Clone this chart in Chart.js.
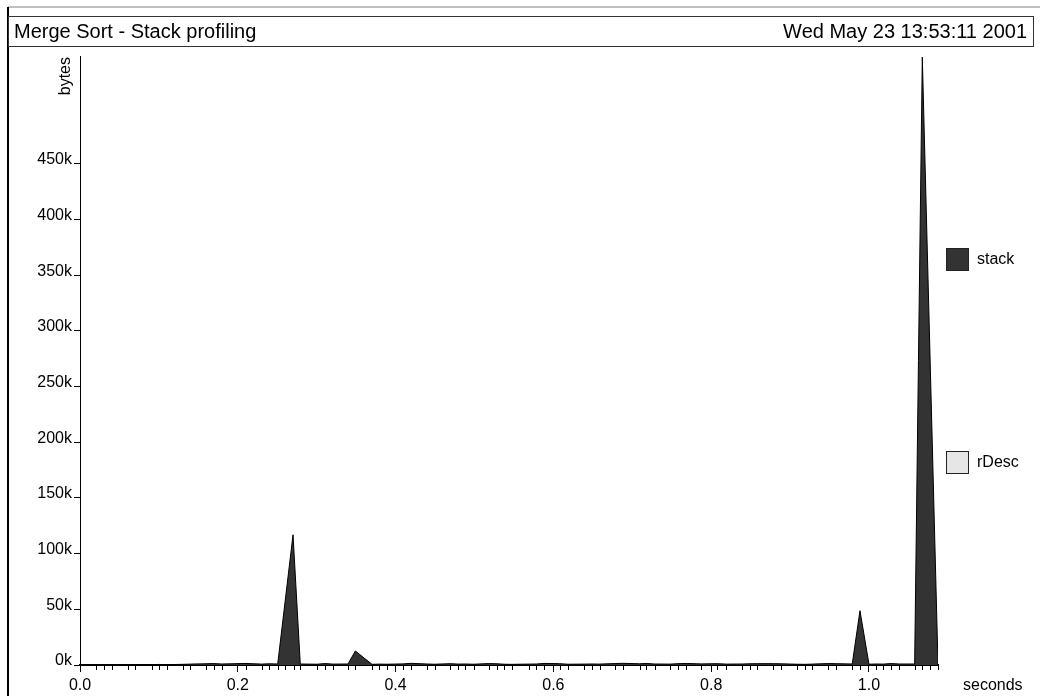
<!DOCTYPE html>
<html>
<head>
<meta charset="utf-8">
<title>Merge Sort - Stack profiling</title>
<script src="https://cdn.jsdelivr.net/npm/chart.js@4.4.1/dist/chart.umd.min.js"></script>
<style>
    html, body { margin: 0; padding: 0; background: #fff; }
    #wrap { width: 1040px; height: 696px; }
</style>
</head>
<body>
<div id="wrap"><canvas id="chart-stack" width="1040" height="696"></canvas></div>
<script>
const chartTitle = 'Merge Sort - Stack profiling';
const chartDate = 'Wed May 23 13:53:11 2001';
const seriesNames = ['stack', 'rDesc'];

// sample times (s) and bytes on the stack
const times = [
    0.0, 0.0203, 0.0300, 0.0402, 0.0605, 0.0701, 0.0909, 0.1005, 0.1103, 0.1302,
    0.1398, 0.1597, 0.1694, 0.1796, 0.2104, 0.2303, 0.2399, 0.2506, 0.2700, 0.2792,
    0.3004, 0.3101, 0.3203, 0.3397, 0.3490, 0.3701, 0.3794, 0.3891, 0.4094, 0.4195,
    0.4398, 0.4496, 0.4693, 0.4791, 0.4884, 0.4990, 0.5180, 0.5285, 0.5378, 0.5470,
    0.5687, 0.5784, 0.5881, 0.6080, 0.6185, 0.6388, 0.6489, 0.6587, 0.6777, 0.6882,
    0.7094, 0.7177, 0.7284, 0.7482, 0.7579, 0.7684, 0.7874, 0.8077, 0.8190, 0.8394,
    0.8492, 0.8584, 0.8787, 0.8881, 0.9084, 0.9189, 0.9281, 0.9484, 0.9585, 0.9788,
    0.9886, 1.0000, 1.0085, 1.0182, 1.0283, 1.0380, 1.0579, 1.0676, 1.0875,
];
const stackBytes = [
    0, 300, 200, 300, 200, 400, 300, 500, 300, 600,
    800, 1100, 1300, 900, 1400, 800, 1100, 900, 117000, 900,
    700, 1300, 800, 900, 12600, 600, 800, 700, 1000, 1500,
    900, 700, 1200, 800, 900, 700, 1300, 1100, 700, 600,
    800, 900, 1400, 1200, 700, 800, 900, 800, 1300, 1500,
    1100, 1400, 900, 800, 1200, 1400, 1000, 1200, 800, 900,
    1100, 1200, 1200, 1100, 700, 600, 800, 1300, 1200, 900,
    48800, 700, 900, 800, 1300, 900, 900, 546000, 0,
];
const rDescBytes = [];

// labelled ticks
const xTicks = [0.0, 0.2, 0.4, 0.6, 0.8, 1.0];
const yTicks = [0, 50000, 100000, 150000, 200000, 250000, 300000, 350000, 400000, 450000];

// small ticks under the time axis, one per sample
const minorTicks = [
    0.0203, 0.0300, 0.0402, 0.0605, 0.0701, 0.0909, 0.1005, 0.1103, 0.1302, 0.1398,
    0.1597, 0.1694, 0.1796, 0.2104, 0.2303, 0.2399, 0.2506, 0.2603, 0.2717, 0.2792,
    0.3004, 0.3101, 0.3203, 0.3397, 0.3490, 0.3701, 0.3794, 0.3891, 0.4094, 0.4195,
    0.4398, 0.4496, 0.4693, 0.4791, 0.4884, 0.4990, 0.5180, 0.5285, 0.5378, 0.5470,
    0.5687, 0.5784, 0.5881, 0.6080, 0.6185, 0.6388, 0.6489, 0.6587, 0.6777, 0.6882,
    0.7094, 0.7177, 0.7284, 0.7482, 0.7579, 0.7684, 0.7874, 0.8077, 0.8190, 0.8394,
    0.8492, 0.8584, 0.8787, 0.8881, 0.9084, 0.9189, 0.9281, 0.9484, 0.9585, 0.9788,
    0.9886, 1.0085, 1.0182, 1.0283, 1.0380, 1.0579, 1.0676, 1.0773, 1.0875,
];
const xMax = 1.0875;
const yMax = 547000;

(function () {
    const font = '"Liberation Sans", Arial, Helvetica, sans-serif';
    const fills = ['#333333', '#e6e6e6'];

    function points(values) {
        return values.map((v, i) => ({ x: times[i], y: v }));
    }

    const framePlugin = {
        id: 'frame',
        afterDraw(chart) {
            const ctx = chart.ctx;
            const area = chart.chartArea;
            const xs = chart.scales.x;
            ctx.save();

            // outer frame
            ctx.strokeStyle = '#808080';
            ctx.lineWidth = 1;
            ctx.beginPath();
            ctx.moveTo(8, 7);
            ctx.lineTo(1040, 7);
            ctx.stroke();
            ctx.strokeStyle = '#000';
            ctx.lineWidth = 2;
            ctx.beginPath();
            ctx.moveTo(8, 7);
            ctx.lineTo(8, 696);
            ctx.stroke();

            // title box
            ctx.lineWidth = 1;
            ctx.strokeStyle = '#333';
            ctx.strokeRect(8.5, 16.5, 1025, 30);
            ctx.fillStyle = '#000';
            ctx.font = '20px ' + font;
            ctx.textBaseline = 'middle';
            ctx.textAlign = 'left';
            ctx.fillText(chartTitle, 14, 32);
            ctx.textAlign = 'right';
            ctx.fillText(chartDate, 1027, 32);

            // minor ticks at the samples
            ctx.strokeStyle = '#000';
            ctx.lineWidth = 1;
            ctx.beginPath();
            minorTicks.forEach((t) => {
                const px = Math.round(xs.getPixelForValue(t)) + 0.5;
                ctx.moveTo(px, area.bottom);
                ctx.lineTo(px, area.bottom + 5);
            });
            ctx.stroke();

            // axis titles
            ctx.font = '16px ' + font;
            ctx.textAlign = 'left';
            ctx.textBaseline = 'middle';
            ctx.fillText('seconds', area.right + 25, area.bottom + 21);
            ctx.save();
            ctx.translate(area.left - 10, area.top + 1);
            ctx.rotate(-Math.PI / 2);
            ctx.textAlign = 'right';
            ctx.textBaseline = 'alphabetic';
            ctx.fillText('bytes', 0, 0);
            ctx.restore();

            // legend, spread down the right side
            const n = chart.data.datasets.length;
            chart.data.datasets.forEach((ds, i) => {
                const cy = area.top + (i + 1) * (area.bottom - area.top) / (n + 1);
                ctx.fillStyle = ds.backgroundColor;
                ctx.fillRect(946, Math.round(cy) - 11, 23, 23);
                ctx.strokeStyle = '#222';
                ctx.strokeRect(946.5, Math.round(cy) - 10.5, 22, 22);
                ctx.fillStyle = '#000';
                ctx.textAlign = 'left';
                ctx.fillText(ds.label, 977, cy + 1);
            });
            ctx.restore();
        },
    };

    try {
        new Chart(document.getElementById('chart-stack'), {
            type: 'line',
            data: {
                datasets: [{
                    label: seriesNames[0],
                    data: points(stackBytes),
                    backgroundColor: fills[0],
                    borderColor: '#000',
                    borderWidth: 1,
                    fill: 'origin',
                    pointRadius: 0,
                    tension: 0,
                    order: 0,
                }, {
                    label: seriesNames[1],
                    data: points(rDescBytes),
                    backgroundColor: fills[1],
                    borderColor: '#000',
                    borderWidth: 1,
                    fill: 'origin',
                    pointRadius: 0,
                    tension: 0,
                    order: 1,
                }],
            },
            options: {
                responsive: false,
                animation: false,
                layout: { padding: { left: 0, top: 56, right: 102, bottom: 0 } },
                plugins: {
                    legend: { display: false },
                    tooltip: { enabled: false },
                },
                scales: {
                    x: {
                        type: 'linear',
                        min: 0,
                        max: xMax,
                        afterBuildTicks: (scale) => {
                            scale.ticks = xTicks.map((v) => ({ value: v }));
                        },
                        afterFit: (scale) => { scale.height = 31; },
                        ticks: {
                            maxRotation: 0,
                            autoSkip: false,
                            padding: 4,
                            color: '#000',
                            font: { family: font, size: 16 },
                            callback: (v) => Number(v).toFixed(1),
                        },
                        grid: { drawOnChartArea: false, tickLength: 7, color: '#000' },
                        border: { color: '#000', width: 2 },
                    },
                    y: {
                        min: 0,
                        max: yMax,
                        afterBuildTicks: (scale) => {
                            scale.ticks = yTicks.map((v) => ({ value: v }));
                        },
                        afterFit: (scale) => { scale.width = 80; },
                        ticks: {
                            autoSkip: false,
                            padding: 2,
                            labelOffset: -4,
                            color: '#000',
                            font: { family: font, size: 16 },
                            callback: (v) => (v / 1000) + 'k',
                        },
                        grid: { drawOnChartArea: false, tickLength: 6, color: '#000' },
                        border: { color: '#000', width: 1 },
                    },
                },
            },
            plugins: [framePlugin],
        });
    } catch (error) {
        console.error('Failed to draw stack chart:', error);
    }
})();
</script>
</body>
</html>
